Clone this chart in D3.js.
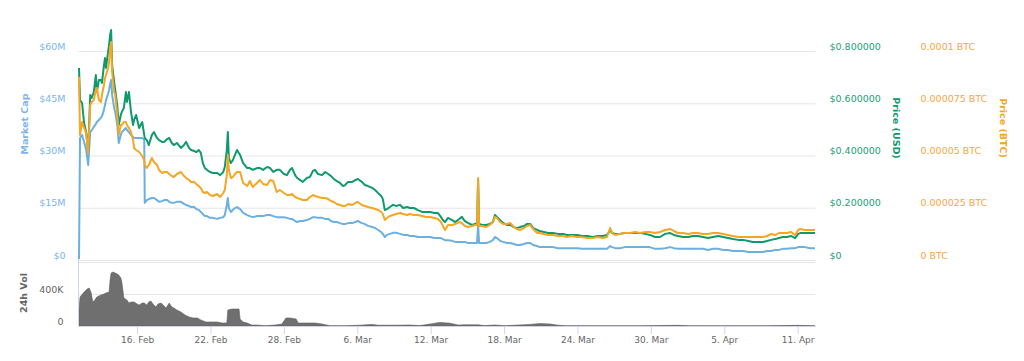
<!DOCTYPE html>
<html><head><meta charset="utf-8">
<script src="https://cdn.jsdelivr.net/npm/d3@7"></script>
<style>body{margin:0;background:#fff;} svg{display:block;}</style>
</head><body><svg id="c" width="1024" height="361"></svg>
<script>
// ---------- DATA ----------
const START = "2018-02-11 00:00";
// hours since START for each sample of the price / market-cap series
const hoursSinceStart = [
  6,8,12,16,20,24,28,31,35,39,
  41,45,49,51,55,57,59,63,65,67,
  69,71,75,77,81,84,88,90,94,98,
  100,104,108,112,114,118,124,130,134,135,
  139,143,149,153,159,163,169,173,179,183,
  188,192,198,206,212,216,222,226,232,236,
  241,245,249,253,257,263,269,277,283,289,
  292,296,298,300,304,308,312,316,322,328,
  336,341,347,355,361,367,375,381,387,394,
  400,408,414,420,424,430,434,440,445,453,
  459,465,469,475,483,489,495,500,506,512,
  518,524,528,534,542,548,553,561,567,573,
  581,587,593,599,602,606,610,616,622,628,
  636,642,650,655,663,671,679,687,695,703,
  710,716,720,724,730,738,744,752,757,763,
  769,777,783,787,789,791,797,805,812,818,
  822,826,832,838,846,852,859,865,871,879,
  885,891,897,905,910,918,926,936,946,956,
  963,973,983,993,1003,1014,1024,1034,1042,1046,
  1048,1052,1058,1067,1077,1087,1097,1107,1117,1126,
  1136,1146,1156,1166,1173,1181,1191,1201,1211,1220,
  1230,1240,1250,1260,1270,1279,1289,1299,1309,1319,
  1328,1338,1348,1356,1364,1372,1379,1387,1395,1403,
  1411,1417,1421,1430,1440,1450
];
// Market cap, millions of USD
const marketCapM = [
  0.3,35.0,35.9,33.9,31.6,27.3,36.7,37.3,38.2,39.0,
  39.6,40.2,40.8,41.3,43.1,44.5,45.9,47.7,48.8,50.5,
  51.7,47.4,43.6,42.5,38.8,33.6,35.9,36.7,37.3,37.9,
  37.3,36.7,35.9,35.3,35.0,35.0,35.0,35.0,34.5,16.4,
  17.2,17.5,17.8,17.8,17.2,16.7,16.9,17.2,17.2,16.7,
  16.4,16.4,16.7,16.7,16.1,15.8,15.5,15.2,15.2,14.6,
  14.4,13.8,13.2,12.6,12.6,12.1,12.1,11.8,12.1,12.3,
  12.9,15.8,17.8,14.9,13.8,14.4,14.9,15.2,14.6,13.5,
  12.9,12.6,12.3,12.6,12.6,12.6,12.9,12.9,12.6,12.3,
  12.3,12.3,12.1,11.8,11.8,11.2,10.9,11.2,11.2,11.5,
  11.8,12.3,12.3,12.1,12.1,11.8,11.8,11.2,10.9,10.9,
  10.6,10.3,10.3,10.6,10.6,10.9,11.2,10.6,10.3,9.8,
  9.5,9.2,8.6,8.0,7.5,6.6,7.2,7.5,7.8,7.8,
  7.5,7.2,7.2,6.9,6.9,6.6,6.6,6.6,6.6,6.3,
  6.3,6.3,6.0,5.7,5.7,5.5,5.2,5.2,5.2,5.2,
  4.9,4.9,4.9,4.9,10.0,4.9,4.9,4.9,5.2,5.7,
  6.6,6.3,5.5,5.2,4.9,4.9,4.6,4.3,4.3,4.6,
  4.9,4.9,4.3,4.0,3.7,3.7,3.7,3.7,3.4,3.4,
  3.4,3.4,3.4,3.2,3.2,3.2,3.2,3.2,3.2,3.7,
  4.0,3.7,3.4,3.4,3.7,3.7,3.7,3.7,3.7,3.7,
  3.2,3.2,3.4,3.7,3.4,3.2,3.2,3.2,3.2,3.2,
  3.2,2.9,3.2,3.2,2.9,2.9,2.6,2.6,2.6,2.3,
  2.3,2.3,2.3,2.6,2.6,2.9,2.9,3.2,3.2,3.4,
  3.4,3.7,3.7,3.7,3.4,3.4
];
// Price in USD
const priceUsd = [
  .735,.612,.601,.524,.490,.413,.632,.620,.643,.708,
  .643,.689,.689,.678,.746,.773,.735,.796,.823,.861,
  .880,.746,.681,.651,.593,.517,.555,.567,.582,.643,
  .605,.643,.567,.517,.536,.555,.505,.528,.479,.467,
  .459,.440,.479,.490,.467,.459,.452,.452,.463,.467,
  .448,.440,.448,.429,.440,.452,.429,.421,.417,.413,
  .421,.410,.371,.352,.345,.337,.333,.333,.325,.337,
  .356,.421,.490,.390,.371,.383,.402,.421,.402,.371,
  .352,.352,.345,.352,.352,.345,.356,.352,.337,.345,
  .345,.329,.325,.345,.352,.325,.314,.306,.299,.314,
  .318,.341,.345,.329,.325,.337,.329,.322,.310,.302,
  .295,.283,.287,.299,.299,.306,.310,.299,.287,.283,
  .276,.268,.256,.245,.234,.191,.195,.203,.211,.207,
  .211,.199,.203,.199,.199,.191,.184,.184,.184,.180,
  .180,.165,.153,.145,.161,.153,.145,.157,.165,.149,
  .142,.134,.138,.142,.306,.138,.134,.134,.138,.145,
  .172,.165,.153,.142,.134,.134,.126,.122,.126,.130,
  .138,.138,.122,.115,.111,.107,.103,.103,.100,.100,
  .096,.096,.096,.092,.092,.088,.092,.092,.096,.107,
  .115,.103,.100,.100,.103,.103,.103,.103,.100,.096,
  .088,.088,.100,.103,.096,.092,.088,.088,.092,.092,
  .088,.084,.088,.092,.088,.084,.080,.077,.077,.073,
  .069,.069,.069,.073,.077,.080,.084,.088,.088,.092,
  .084,.100,.103,.103,.103,.103
];
// Price in BTC, expressed in satoshi (1e-8 BTC)
const priceBtcSat = [
  8757,5981,6603,6316,6077,5120,7417,7560,7656,8135,
  8230,7656,7560,7895,8374,8709,8852,9187,9474,10144,
  10431,8996,8039,7895,6938,5981,6460,6460,6603,6603,
  6460,6316,6125,5742,5359,5264,5168,4976,4785,4546,
  4402,4546,4881,4689,4546,4307,4163,4211,4211,4115,
  4019,3972,4115,4211,4019,3924,3828,3732,3732,3637,
  3541,3445,3254,3206,3254,3110,3062,3158,3015,3206,
  3350,4067,5024,4307,3924,3972,4115,4211,4211,3684,
  3541,3780,3493,3684,3828,3637,3589,3828,3780,3254,
  3350,3206,3110,3110,3158,3015,2967,2919,2871,2871,
  3015,3110,3062,3015,2967,2967,2919,2823,2775,2680,
  2632,2584,2584,2680,2632,2727,2775,2632,2584,2536,
  2488,2440,2393,2297,2201,1914,2010,2105,2153,2201,
  2249,2201,2153,2201,2153,2153,2105,2058,2058,2010,
  1962,1818,1627,1436,1675,1675,1723,1818,1770,1627,
  1579,1627,1675,1675,3924,1627,1627,1579,1675,1818,
  2058,2010,1818,1723,1723,1770,1579,1483,1436,1531,
  1627,1675,1483,1292,1292,1244,1196,1196,1148,1148,
  1101,1148,1101,1101,1053,1053,1101,1053,1101,1388,
  1531,1292,1196,1244,1292,1292,1340,1292,1340,1340,
  1292,1340,1436,1483,1388,1292,1292,1244,1292,1292,
  1244,1244,1292,1292,1244,1196,1148,1101,1101,1101,
  1101,1101,1101,1148,1244,1196,1292,1292,1292,1340,
  1196,1436,1483,1436,1436,1436
];
// 24h volume (thousands of USD) at its own sample hours
const volHours = [6,8,16,22,26,30,33,37,41,45,49,55,59,65,67,69,73,77,81,84,88,90,94,100,104,108,114,120,124,130,134,139,143,147,151,157,161,167,173,177,183,188,192,198,206,214,222,230,238,245,255,267,277,287,296,298,306,314,320,322,328,336,345,355,371,391,404,412,420,432,436,449,469,483,498,528,557,581,593,626,655,675,695,714,734,750,763,789,801,822,842,861,891,910,930,946,960,1028,1107,1173,1185,1205,1264,1352,1417,1450];
const volumeK = [200,362,425,462,475,412,300,325,362,375,387,400,412,425,575,662,675,662,650,637,600,550,350,325,287,300,300,275,262,287,287,262,300,312,275,237,275,287,250,225,287,237,225,200,175,137,112,100,100,75,50,50,50,37,37,200,212,212,212,87,50,37,12,12,3,12,25,100,100,87,37,37,37,25,3,3,10,20,10,10,12,5,25,45,35,12,15,15,5,12,3,10,20,30,25,10,3,2,2,8,8,2,2,2,8,3];

const mcapTicks = [0, 15, 30, 45, 60];
const usdTicks = [0, 0.2, 0.4, 0.6, 0.8];
const btcTicks = [0, 0.000025, 0.00005, 0.000075, 0.0001];
const volTicks = [0, 400, 800];
const dateTicks = ["2018-02-16","2018-02-22","2018-02-28","2018-03-06","2018-03-12","2018-03-18","2018-03-24","2018-03-30","2018-04-05","2018-04-11"];

// ---------- DRAW ----------
const FONT = "'DejaVu Sans', Verdana, sans-serif";
const C_MCAP = "#6cb0e0", C_USD = "#0f9a6c", C_BTC = "#f5a623";
const L_MCAP = "#7cb5ec", L_USD = "#21a078", L_BTC = "#f7a73c";

const t0 = d3.timeParse("%Y-%m-%d %H:%M")(START);
const T = h => new Date(t0.getTime() + h * 3600e3);
const parseDay = d3.timeParse("%Y-%m-%d");

const X0 = 78.5, X1 = 815.5;
const x = d3.scaleTime().domain([T(5), T(1451)]).range([X0, X1]);
const yMcap = d3.scaleLinear().domain([0, 60]).range([260, 51]);
const yUsd = d3.scaleLinear().domain([0, 0.8]).range([260, 51]);
const yBtc = d3.scaleLinear().domain([0, 0.0001]).range([260, 51]);
const yVol = d3.scaleLinear().domain([0, 800]).range([326, 262]);

const svg = d3.select("#c").attr("font-family", FONT);

// main grid + left labels
const gM = svg.append("g").attr("transform", `translate(${X0},0)`)
  .call(d3.axisLeft(yMcap).tickValues(mcapTicks).tickSize(-(X1 - X0)).tickPadding(13)
    .tickFormat(d => d === 0 ? "$0" : "$" + d + "M"));
gM.attr("font-family", FONT).attr("font-size", 9.5);
gM.select(".domain").remove();
gM.selectAll(".tick line").attr("stroke", "#e6e6e6");
gM.selectAll(".tick text").attr("fill", L_MCAP).attr("y", -5);

// USD axis labels
const gU = svg.append("g").attr("transform", `translate(${X1},0)`)
  .call(d3.axisRight(yUsd).tickValues(usdTicks).tickSize(0).tickPadding(14)
    .tickFormat(d => d === 0 ? "$0" : "$" + d.toFixed(6)));
gU.attr("font-family", FONT).attr("font-size", 9.5);
gU.select(".domain").remove();
gU.selectAll(".tick text").attr("fill", L_USD).attr("y", -5);

// BTC axis labels
const gB = svg.append("g").attr("transform", `translate(${X1},0)`)
  .call(d3.axisRight(yBtc).tickValues(btcTicks).tickSize(0).tickPadding(105)
    .tickFormat(d => (d === 0 ? "0" : String(d)) + " BTC"));
gB.attr("font-family", FONT).attr("font-size", 9.5);
gB.select(".domain").remove();
gB.selectAll(".tick text").attr("fill", L_BTC).attr("y", -5);

// volume grid + labels
const gV = svg.append("g").attr("transform", `translate(${X0},0)`)
  .call(d3.axisLeft(yVol).tickValues(volTicks).tickSize(-(X1 - X0)).tickPadding(15)
    .tickFormat(d => d === 0 ? "0" : d + "K"));
gV.attr("font-family", FONT).attr("font-size", 9.5);
gV.select(".domain").remove();
gV.selectAll(".tick line").attr("stroke", "#e6e6e6");
gV.selectAll(".tick text").attr("fill", "#666").attr("y", -5)
  .filter(d => d === 800).remove();

// volume area
const volData = volHours.map((h, i) => ({ t: T(h), v: volumeK[i] }));
svg.append("path").datum(volData)
  .attr("d", d3.area().x(d => x(d.t)).y0(yVol(0)).y1(d => yVol(d.v)))
  .attr("fill", "#6f6f6f").attr("stroke", "#5f5f5f").attr("stroke-width", 0.6);

// x axis
const gX = svg.append("g").attr("transform", `translate(0,${yVol(0)})`)
  .call(d3.axisBottom(x).tickValues(dateTicks.map(parseDay)).tickSize(8).tickSizeOuter(0).tickPadding(3)
    .tickFormat(d3.timeFormat("%-d. %b")));
gX.attr("font-family", FONT).attr("font-size", 9);
gX.select(".domain").attr("stroke", "#ccd6eb");
gX.selectAll(".tick line").attr("stroke", "#ccd6eb");
gX.selectAll(".tick text").attr("fill", "#666");

// left border of volume pane
svg.append("line").attr("x1", X0).attr("x2", X0).attr("y1", 257).attr("y2", yVol(0))
  .attr("stroke", "#ccd6eb");

// series
const pts = hoursSinceStart.map((h, i) => ({
  t: T(h), m: marketCapM[i], u: priceUsd[i], b: priceBtcSat[i] / 1e8
}));
const drawLine = (acc, scale, color) => svg.append("path").datum(pts)
  .attr("d", d3.line().defined(d => acc(d) != null && !isNaN(acc(d))).x(d => x(d.t)).y(d => scale(acc(d))))
  .attr("fill", "none").attr("stroke", color).attr("stroke-width", 2)
  .attr("stroke-linejoin", "round");
drawLine(d => d.m, yMcap, C_MCAP);
drawLine(d => d.u, yUsd, C_USD);
drawLine(d => d.b, yBtc, C_BTC);

// axis titles
const title = (txt, tx, ty, rot, color, weight) => svg.append("text")
  .attr("transform", `translate(${tx},${ty}) rotate(${rot})`)
  .attr("text-anchor", "middle").attr("dominant-baseline", "central")
  .attr("font-size", 9.5).attr("font-weight", weight).attr("fill", color).text(txt);
title("Market Cap", 24, 124, -90, L_MCAP, "bold");
title("24h Vol", 23, 293, -90, "#666", "bold");
title("Price (USD)", 896, 128, 90, C_USD, "bold");
title("Price (BTC)", 1003, 128, 90, C_BTC, "bold");
</script>
</body></html>
